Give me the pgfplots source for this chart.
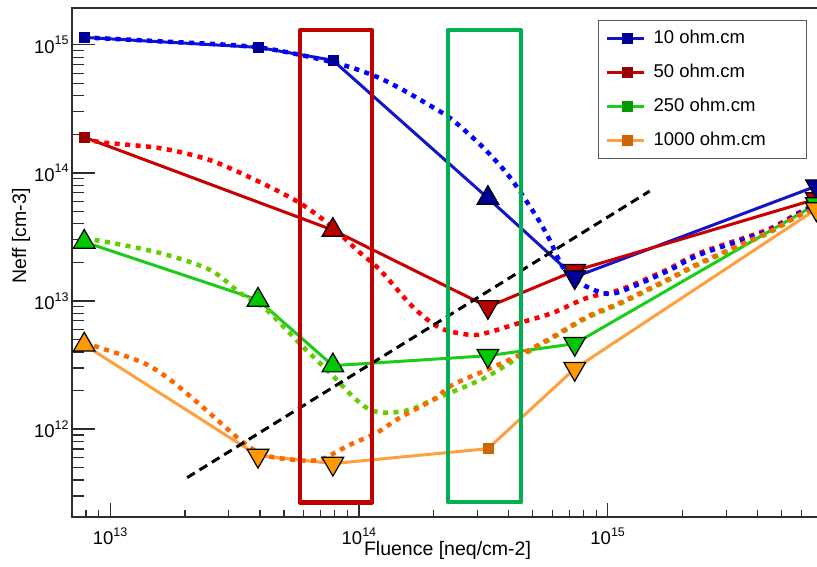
\documentclass[border=0pt]{standalone}
\usepackage{fontspec}
\setmainfont{Liberation Sans}
\usepackage{pgfplots}
\pgfplotsset{compat=1.18}

\definecolor{bline}{RGB}{20,20,200}
\definecolor{bdot}{RGB}{0,0,255}
\definecolor{bmark}{RGB}{0,0,150}
\definecolor{rline}{RGB}{200,0,0}
\definecolor{rdot}{RGB}{255,0,0}
\definecolor{rmark}{RGB}{185,0,0}
\definecolor{rsq}{RGB}{153,0,0}
\definecolor{gline}{RGB}{25,205,25}
\definecolor{gdot}{RGB}{102,204,0}
\definecolor{gmark}{RGB}{0,200,0}
\definecolor{gsq}{RGB}{0,153,0}
\definecolor{oline}{RGB}{255,160,64}
\definecolor{odot}{RGB}{255,102,0}
\definecolor{omark}{RGB}{255,153,0}
\definecolor{osq}{RGB}{204,102,0}
\definecolor{rectred}{RGB}{192,0,0}
\definecolor{rectgreen}{RGB}{0,176,80}
\definecolor{axgray}{RGB}{45,45,45}
\definecolor{leggray}{RGB}{90,90,90}

\newcommand{\tl}[1]{10\raisebox{8.5pt}{\fontsize{12.5}{12.5}\selectfont #1}}

\pgfplotsset{
  mydot/.style={line width=4.5pt, dash pattern=on 5pt off 5.5pt, smooth, tension=0.5, forget plot},
  mysolid/.style={line width=3pt, forget plot},
  myup/.style={only marks, mark=triangle*, mark size=12.5pt, mark options={draw=black, line width=1.2pt, fill=#1}, forget plot},
  mydn/.style={only marks, mark=triangle*, mark size=12.5pt, mark options={draw=black, line width=1.2pt, fill=#1, rotate=180}, forget plot},
  mysq/.style={only marks, mark=square*, mark size=5pt, mark options={draw=#1, fill=#1}, forget plot},
}

\begin{document}
\begin{tikzpicture}
% x ticks (short)
\begin{axis}[xmode=log, ymode=log,
  at={(72pt,50pt)}, anchor=south west,
  width=763pt, height=509pt, scale only axis,
  xmin=7.03e12, xmax=8.2e15, ymin=2.06e11, ymax=1.94e15,
  axis line style={draw=axgray, line width=1.5pt},
  tick style={draw=axgray, line width=1.2pt},
  tick pos=left, tick align=inside,
  xtick={1e13,1e14,1e15}, xticklabels={,,},
  minor xtick={8e12,9e12,2e13,3e13,4e13,5e13,6e13,7e13,8e13,9e13,2e14,3e14,4e14,5e14,6e14,7e14,8e14,9e14,2e15,3e15,4e15,5e15,6e15,7e15,8e15},
  ytick={1e12}, yticklabels={,}, every major y tick/.append style={draw=none}, every minor y tick/.append style={draw=none},
  major tick length=14pt, minor tick length=7pt]
\addplot[draw=none, forget plot] coordinates {(1e13,1e13) (1e14,1e14)};
\end{axis}
% main axis
\begin{axis}[xmode=log, ymode=log,
  at={(72pt,50pt)}, anchor=south west,
  width=763pt, height=509pt, scale only axis,
  xmin=7.03e12, xmax=8.2e15, ymin=2.06e11, ymax=1.94e15,
  axis line style={draw=axgray, line width=1.5pt},
  tick style={draw=axgray, line width=1.2pt},
  tick pos=left, tick align=inside,
  tick label style={font=\fontsize{18.5}{20}\selectfont},
  xticklabel style={yshift=-7pt},
  xtick={1e13,1e14,1e15}, xticklabels={\tl{13},\tl{14},\tl{15}},
  every major x tick/.append style={draw=none}, every minor x tick/.append style={draw=none},
  ytick={1e12,1e13,1e14,1e15}, yticklabels={\tl{12},\tl{13},\tl{14},\tl{15}},
  minor ytick={3e11,4e11,5e11,6e11,7e11,8e11,9e11,2e12,3e12,4e12,5e12,6e12,7e12,8e12,9e12,2e13,3e13,4e13,5e13,6e13,7e13,8e13,9e13,2e14,3e14,4e14,5e14,6e14,7e14,8e14,9e14},
  major tick length=23pt, minor tick length=12pt,
  xlabel={Fluence [neq/cm-2]}, ylabel={Neff [cm-3]},
  xlabel style={at={(axis description cs:0.4921,-0.0648)}, anchor=center, font=\fontsize{19.5}{21}\selectfont},
  ylabel style={at={(axis description cs:-0.0668,0.552)}, anchor=center, font=\fontsize{19.5}{21}\selectfont},
  legend style={at={(axis description cs:0.6894,0.9764)}, anchor=north west,
    draw=leggray, line width=1.2pt, fill=white, inner xsep=7pt, inner ysep=1pt,
    font=\fontsize{18.5}{20}\selectfont, row sep=0pt, column sep=0pt,
    nodes={inner xsep=8pt, inner ysep=8.5pt, text height=13pt, text depth=4pt}},
  legend cell align=left,
]
% solid lines
\addplot[mysolid, draw=bline] coordinates {(7.87e12,1.143e15) (3.93e13,9.56e14) (7.86e13,7.57e14) (3.30e14,6.36e13) (7.37e14,1.54e13) (6.9e15,7.89e13)};
\addplot[mysolid, draw=rline] coordinates {(7.87e12,1.90e14) (7.86e13,3.58e13) (3.30e14,9.0e12) (7.37e14,1.72e13) (6.9e15,6.25e13)};
\addplot[mysolid, draw=gline] coordinates {(7.87e12,2.89e13) (3.93e13,1.02e13) (7.86e13,3.13e12) (3.30e14,3.74e12) (7.37e14,4.64e12) (6.9e15,5.71e13)};
\addplot[mysolid, draw=oline] coordinates {(7.87e12,4.55e12) (3.93e13,6.21e11) (7.86e13,5.38e11) (3.30e14,7.03e11) (7.37e14,2.96e12) (6.9e15,5.22e13)};
% dotted curves
\addplot[mydot, draw=rdot] coordinates {(7.86e12,1.90e14) (9.12e12,1.738e14) (1.588e13,1.561e14) (2.521e13,1.258e14) (4.003e13,8.47e13) (5.797e13,5.81e13) (7.65e13,3.92e13) (9.818e13,2.50e13) (1.214e14,1.75e13) (1.648e14,8.99e12) (2.115e14,6.17e12) (2.791e14,5.44e12) (3.266e14,5.64e12) (4.432e14,6.75e12) (6.015e14,8.08e12) (8.235e14,1.057e13) (1.117e15,1.22e13) (1.726e15,1.75e13) (2.342e15,2.37e13) (4.35e15,3.58e13) (5.904e15,4.94e13) (6.908e15,5.71e13)};
\addplot[mydot, draw=bdot] coordinates {(7.86e12,1.143e15) (1.588e13,1.065e15) (3.93e13,9.56e14) (7.86e13,7.30e14) (1.138e14,5.79e14) (1.461e14,4.58e14) (1.982e14,3.26e14) (2.385e14,2.58e14) (3.148e14,1.589e14) (4.041e14,9.27e13) (5.186e14,4.52e13) (5.85e14,2.99e13) (6.596e14,1.845e13) (7.72e14,1.384e13) (9.55e14,1.157e13) (1.117e15,1.178e13) (1.726e15,1.70e13) (2.342e15,2.30e13) (4.35e15,3.50e13) (5.904e15,4.85e13) (6.908e15,5.6e13)};
\addplot[mydot, draw=gdot] coordinates {(7.86e12,2.99e13) (9.12e12,2.95e13) (1.588e13,2.37e13) (2.521e13,1.75e13) (3.327e13,1.157e13) (4.117e13,8.99e12) (4.685e13,7.12e12) (5.957e13,4.39e12) (7.65e13,2.75e12) (9.46e13,1.79e12) (1.107e14,1.415e12) (1.295e14,1.341e12) (1.602e14,1.415e12) (1.982e14,1.69e12) (3.148e14,2.47e12) (4.432e14,3.67e12) (6.015e14,5.16e12) (8.235e14,7.38e12) (1.117e15,9.49e12) (1.726e15,1.435e13) (2.342e15,1.946e13) (4.35e15,3.33e13) (5.904e15,4.69e13) (6.908e15,5.22e13)};
\addplot[mydot, draw=odot] coordinates {(7.86e12,4.71e12) (9.12e12,4.31e12) (1.357e13,3.30e12) (1.742e13,2.43e12) (2.298e13,1.55e12) (3.327e13,8.26e11) (4.117e13,6.31e11) (5.43e13,5.77e11) (6.973e13,5.77e11) (9.203e13,7.55e11) (1.18e14,9.37e11) (1.461e14,1.227e12) (1.982e14,1.69e12) (2.385e14,2.22e12) (3.266e14,2.90e12) (4.432e14,3.80e12) (6.015e14,5.25e12) (8.235e14,7.52e12) (1.117e15,9.66e12) (1.726e15,1.46e13) (2.342e15,1.98e13) (4.35e15,3.40e13) (5.904e15,4.69e13) (6.908e15,5.22e13)};
% black dashed line
\addplot[black, line width=3pt, dash pattern=on 9pt off 5.5pt, forget plot] coordinates {(2.04e13,4.18e11) (1.475e15,7.21e13)};
% markers: red
\addplot[mysq=rsq] coordinates {(7.87e12,1.90e14)};
\addplot[myup=rmark] coordinates {(7.86e13,3.58e13)};
\addplot[mydn=rmark] coordinates {(3.30e14,9.0e12) (7.37e14,1.72e13) (6.9e15,6.25e13)};
% blue
\addplot[mysq=bmark] coordinates {(7.87e12,1.143e15) (3.93e13,9.56e14) (7.86e13,7.57e14)};
\addplot[myup=bmark] coordinates {(3.30e14,6.36e13)};
\addplot[mydn=bmark] coordinates {(7.37e14,1.54e13) (6.9e15,7.89e13)};
% green
\addplot[myup=gmark] coordinates {(7.87e12,2.89e13) (3.93e13,1.02e13) (7.86e13,3.13e12)};
\addplot[mydn=gmark] coordinates {(3.30e14,3.74e12) (7.37e14,4.64e12) (6.9e15,5.71e13)};
% orange
\addplot[myup=omark] coordinates {(7.87e12,4.55e12)};
\addplot[mydn=omark] coordinates {(3.93e13,6.21e11) (7.86e13,5.38e11) (7.37e14,2.96e12) (6.9e15,5.22e13)};
\addplot[mysq=osq] coordinates {(3.30e14,7.03e11)};
% rectangles
\addplot[draw=rectred, line width=4.5pt, line join=round, forget plot] coordinates {(5.8e13,1.3e15) (1.13e14,1.3e15) (1.13e14,2.67e11) (5.8e13,2.67e11) (5.8e13,1.3e15) (1.13e14,1.3e15)};
\addplot[draw=rectgreen, line width=4.5pt, line join=round, forget plot] coordinates {(2.28e14,1.3e15) (4.48e14,1.3e15) (4.48e14,2.7e11) (2.28e14,2.7e11) (2.28e14,1.3e15) (4.48e14,1.3e15)};
% legend
\addlegendimage{legend image code/.code={\draw[line width=3pt, bline] (0pt,0pt) -- (37pt,0pt); \fill[bmark] (15pt,-5pt) rectangle (25pt,5pt);}}
\addlegendentry{\makebox[138pt][l]{10 ohm.cm}}
\addlegendimage{legend image code/.code={\draw[line width=3pt, rline] (0pt,0pt) -- (37pt,0pt); \fill[rsq] (15pt,-5pt) rectangle (25pt,5pt);}}
\addlegendentry{\makebox[138pt][l]{50 ohm.cm}}
\addlegendimage{legend image code/.code={\draw[line width=3pt, gline] (0pt,0pt) -- (37pt,0pt); \fill[gsq] (15pt,-5pt) rectangle (25pt,5pt);}}
\addlegendentry{\makebox[138pt][l]{250 ohm.cm}}
\addlegendimage{legend image code/.code={\draw[line width=3pt, oline] (0pt,0pt) -- (37pt,0pt); \fill[osq] (15pt,-5pt) rectangle (25pt,5pt);}}
\addlegendentry{\makebox[138pt][l]{1000 ohm.cm}}
\end{axis}
\pgfresetboundingbox
\useasboundingbox (0,0) rectangle (817pt,567pt);
\end{tikzpicture}
\end{document}
